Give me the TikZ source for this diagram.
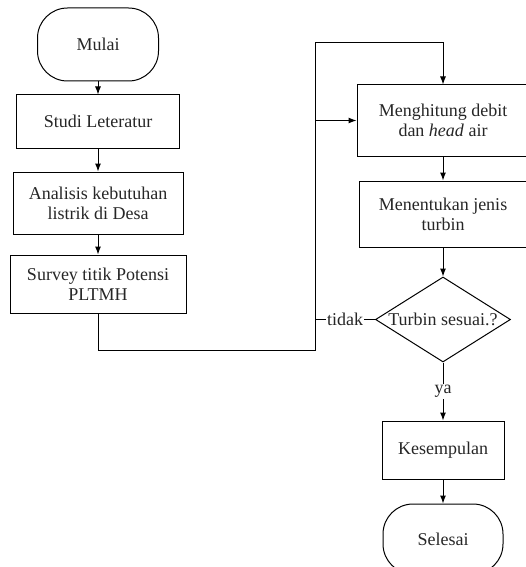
\documentclass[tikz,border=0pt]{standalone}
\usepackage{fontspec}
\setmainfont{Liberation Serif}
\usetikzlibrary{positioning,shapes.geometric,arrows.meta}

\begin{document}
\begin{tikzpicture}[x=1pt, y=-1pt, node distance=20pt,
                    line width=1pt, >={Latex[length=8pt,width=6pt]},
                    every node/.style={font=\fontsize{18}{20}\selectfont, text=black!85},
                    proses/.style={rectangle,draw=black,align=center,inner sep=2pt},
                    terminal/.style={rectangle,draw=black,rounded corners=30pt,minimum width=121pt,minimum height=73pt},
                    keputusan/.style={diamond,draw=black,inner sep=0pt,minimum width=135pt,minimum height=85pt},
                    ket/.style={fill=white,inner sep=1pt}]

  \useasboundingbox (0,0) rectangle (525,567);

  % kolom kiri
  \node[terminal] (mulai) at (98,44.5) {Mulai};
  \node[proses,minimum width=163pt,minimum height=53pt] (studi) [below=13pt of mulai] {Studi Leteratur};
  \node[proses,minimum width=170pt,minimum height=62pt] (analisis) [below=23pt of studi] {Analisis kebutuhan\\listrik di Desa};
  \node[proses,minimum width=176pt,minimum height=58pt] (survey) [below=20pt of analisis] {Survey titik Potensi\\PLTMH};

  % kolom kanan
  \node[proses,minimum width=172pt,minimum height=71pt] (hitung) at (443,120.5) {Menghitung debit\\dan \textit{head} air};
  \node[proses,minimum width=168pt,minimum height=66pt] (turbin) [below=24pt of hitung] {Menentukan jenis\\turbin};
  \node[keputusan,label={center:Turbin sesuai.?}] (cek) [below=29pt of turbin] {};
  \node[proses,minimum width=122pt,minimum height=58pt] (simpulan) [below=58pt of cek] {Kesempulan};
  \node[terminal,minimum width=120pt,minimum height=70pt] (selesai) [below=24pt of simpulan] {Selesai};

  \coordinate (sudutA) at (315,350);
  \coordinate (sudutB) at (315,43);

\path[->]
    (mulai) edge (studi)
    (studi) edge (analisis)
    (analisis) edge (survey)
    (hitung) edge (turbin)
    (turbin) edge (cek)
    (cek) edge node[ket] {ya} (simpulan)
    (simpulan) edge (selesai);

  \draw[->] (survey.south) |- (sudutA) -- (sudutB) -| (hitung.north);
  \draw (cek.west) -- node[ket] {tidak} (cek.west -| sudutA);
  \draw[->] (hitung.west -| sudutA) -- (hitung.west);

\end{tikzpicture}
\end{document}
